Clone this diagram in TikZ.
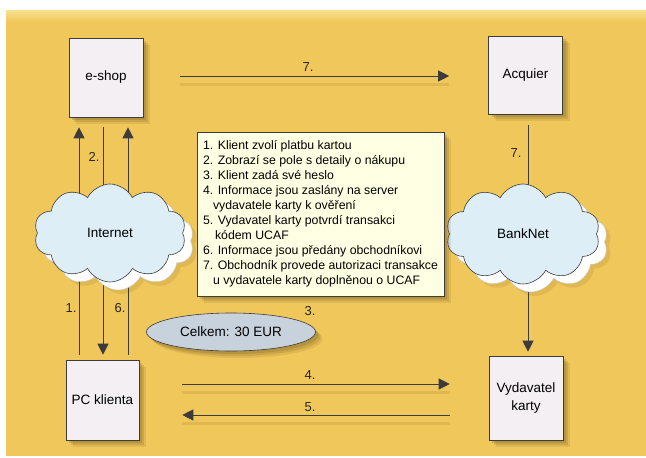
\documentclass[tikz,border=0pt]{standalone}
\usepackage{fontspec}
\setmainfont{Liberation Sans}
\usetikzlibrary{arrows.meta,shapes.symbols,shapes.geometric,shadows}

\definecolor{bg}{HTML}{F0C75A}
\definecolor{bgtop}{HTML}{F8E08E}
\definecolor{boxfill}{HTML}{F3EFF3}
\definecolor{cloudfill}{HTML}{DDEEF6}
\definecolor{notefill}{HTML}{FFFFE4}
\definecolor{ellfill}{HTML}{C8D2DC}
\definecolor{ln}{HTML}{3C3C3C}
\definecolor{shad}{HTML}{6B5220}

\tikzset{
  softshadow/.style={
    drop shadow={shadow xshift=7pt, shadow yshift=-7pt, opacity=0.12, fill=shad},
    drop shadow={shadow xshift=5pt, shadow yshift=-5pt, opacity=0.17, fill=shad},
    drop shadow={shadow xshift=3pt, shadow yshift=-3pt, opacity=0.22, fill=shad}},
  mybox/.style={draw=ln, line width=0.6pt, fill=boxfill, inner sep=0pt,
    align=center, font=\fontsize{13.5}{18}\selectfont, softshadow},
  netcloud/.style={cloud, cloud puffs=10, cloud puff arc=125, aspect=1.55,
    draw=ln, line width=0.6pt, fill=cloudfill, inner sep=0pt,
    font=\fontsize{13.5}{16}\selectfont},
  cloudshadow/.style={cloud, cloud puffs=10, cloud puff arc=125, aspect=1.55,
    fill=white, draw=gray!45, line width=0.4pt, inner sep=0pt},
  arr/.style={draw=ln, line width=0.8pt, -{Triangle[length=11pt,width=11pt]}},
  harr/.style={arr, preaction={draw=shad, draw opacity=0.12, line width=3pt,
    transform canvas={yshift=-8pt}, -}},
  lbl/.style={font=\fontsize{13}{15}\selectfont, text=black!85, inner sep=0pt},
}

\begin{document}
\begin{tikzpicture}[x=1pt, y=-1pt]
\useasboundingbox (0,0) rectangle (646,458);
% background
\fill[white] (0,0) rectangle (646,458);
\fill[bg] (6,10) rectangle (646,456);
\shade[top color=bgtop, bottom color=bg] (6,10) rectangle (646,22);

% boxes (positions)
\node[mybox, minimum width=74pt, minimum height=79pt] (eshop) at (106,77.5) {e-shop};
\node[mybox, minimum width=74pt, minimum height=78pt] (acq) at (525.5,75) {Acquier};
\node[mybox, minimum width=73pt, minimum height=80pt] (pc) at (102.5,400) {PC klienta};
\node[mybox, minimum width=74pt, minimum height=84pt] (vyd) at (526,398) {Vydavatel\\karty};

% helper x/y positions
\coordinate (x1) at (79,0);
\coordinate (x2) at (103,0);
\coordinate (x6) at (128,0);
\coordinate (xr) at (528,0);
\coordinate (y7) at (0,76);
\coordinate (y4) at (0,384);
\coordinate (y5) at (0,415);

% vertical connectors (behind clouds)
\draw[arr, shorten <=5pt, shorten >=10pt] (pc.north -| x1) -- (eshop.south -| x1);
\draw[arr, shorten <=10pt, shorten >=5pt] (eshop.south -| x2) -- (pc.north -| x2);
\draw[arr, shorten <=5pt, shorten >=10pt] (pc.north -| x6) -- (eshop.south -| x6);
\draw[arr, shorten <=11pt, shorten >=4pt] (acq.south -| xr) -- (vyd.north -| xr);

% horizontal connectors
\draw[harr, shorten <=37pt, shorten >=39pt] (eshop.east |- y7) -- (acq.west |- y7);
\draw[harr, shorten <=43pt, shorten >=39pt] (pc.east |- y4) -- (vyd.west |- y4);
\draw[harr, shorten <=39pt, shorten >=43pt] (vyd.west |- y5) -- (pc.east |- y5);

% clouds
\node[cloudshadow, fill=shad, fill opacity=0.12, draw=none, minimum width=152pt, minimum height=98pt] (inetsh2) at (122,245) {};
\node[cloudshadow, minimum width=152pt, minimum height=98pt] (inetsh) at (118,241) {};
\node[netcloud, minimum width=152pt, minimum height=98pt] (inet) at (110,233) {Internet};
\node[cloudshadow, fill=shad, fill opacity=0.12, draw=none, minimum width=154pt, minimum height=100pt] (banksh2) at (535,246) {};
\node[cloudshadow, minimum width=154pt, minimum height=100pt] (banksh) at (531,242) {};
\node[netcloud, minimum width=154pt, minimum height=100pt] (bank) at (523,234) {BankNet};

% note box
\node[draw=ln, line width=0.6pt, fill=notefill, softshadow, minimum width=247pt,
  minimum height=164pt, align=left, inner sep=0pt,
  font=\fontsize{12.3}{15}\selectfont] (info) at (320.5,214) {%
1. Klient zvolí platbu kartou\\
2. Zobrazí se pole s detaily o nákupu\\
3. Klient zadá své heslo\\
4. Informace jsou zaslány na server\\
\hspace*{10pt}vydavatele karty k ověření\\
5. Vydavatel karty potvrdí transakci\\
\hspace*{12pt}kódem UCAF\\
6. Informace jsou předány obchodníkovi\\
7. Obchodník provede autorizaci transakce\\
\hspace*{10pt}u vydavatele karty doplněnou o UCAF};

% ellipse
\node[ellipse, draw=ln, line width=0.6pt, fill=ellfill, softshadow,
  minimum width=169pt, minimum height=38pt, inner sep=0pt,
  font=\fontsize{13.5}{16}\selectfont] (total) at (231,332) {Celkem: 30 EUR};

% step labels
\node[lbl] (l7a) at (308,67) {7.};
\node[lbl] (l7b) at (516,153) {7.};
\node[lbl] (l2) at (94,157) {2.};
\node[lbl] (l1) at (71,308) {1.};
\node[lbl] (l6) at (120,308) {6.};
\node[lbl] (l3) at (310,311) {3.};
\node[lbl] (l4) at (310,375) {4.};
\node[lbl] (l5) at (310,407) {5.};
\end{tikzpicture}
\end{document}
